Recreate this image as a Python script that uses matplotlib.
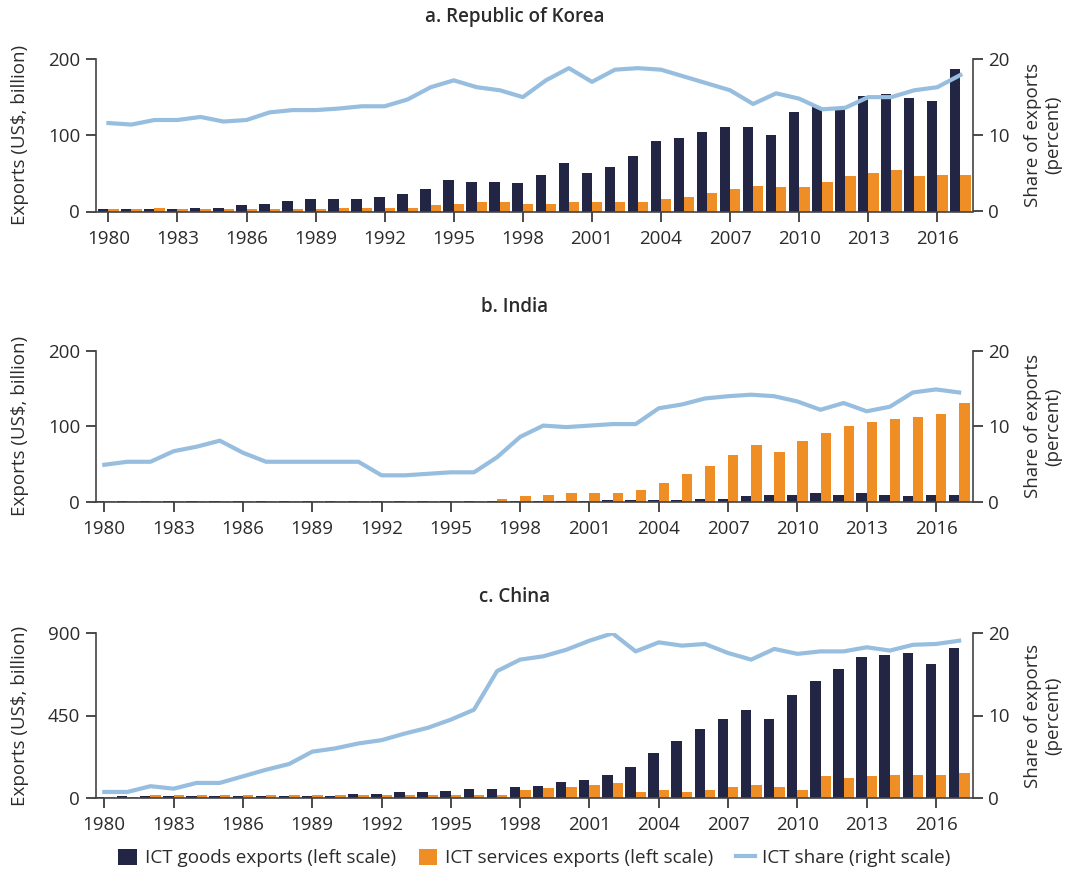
import matplotlib
matplotlib.use("Agg")
import matplotlib.pyplot as plt
from matplotlib.patches import Patch
from matplotlib.lines import Line2D
import numpy as np

plt.rcParams['font.family'] = ['Open Sans', 'DejaVu Sans']

years = list(range(1980, 2018))

# Republic of Korea
korea_goods = [3, 3, 3, 3, 5, 5, 8, 10, 14, 17, 17, 17, 19, 23, 30, 41, 39, 39, 37, 48,
               64, 50, 59, 73, 93, 97, 104, 111, 111, 100, 131, 137, 134, 152, 154, 149, 145, 187]
korea_services = [3, 3, 5, 3, 3, 3, 3, 3, 3, 3, 5, 5, 5, 5, 8, 10, 12, 12, 10, 10,
                  12, 12, 12, 12, 17, 19, 24, 30, 34, 32, 32, 39, 46, 50, 55, 46, 48, 48]
korea_share = [11.6, 11.4, 12.0, 12.0, 12.4, 11.8, 12.0, 13.0, 13.3, 13.3, 13.5, 13.8, 13.8, 14.7,
               16.3, 17.2, 16.3, 15.9, 15.0, 17.2, 18.8, 17.0, 18.6, 18.8, 18.6, 17.7, 16.8, 15.9,
               14.1, 15.5, 14.8, 13.4, 13.6, 15.0, 15.0, 15.9, 16.3, 17.9]

# India
india_goods = [1, 1, 1, 1, 1, 1, 1, 1, 1, 1, 1, 1, 1, 1, 1, 1, 1, 1, 1, 1,
               1, 1, 2, 2, 2, 2, 4, 4, 7, 9, 9, 11, 9, 11, 9, 7, 9, 9]
india_services = [1, 1, 1, 1, 1, 1, 1, 1, 1, 1, 1, 1, 1, 1, 1, 1, 1, 4, 7, 9,
                  11, 11, 11, 16, 25, 37, 48, 62, 75, 66, 80, 91, 101, 106, 110, 112, 117, 131]
india_share = [4.9, 5.3, 5.3, 6.7, 7.3, 8.1, 6.5, 5.3, 5.3, 5.3, 5.3, 5.3, 3.5, 3.5, 3.7, 3.9,
               3.9, 5.9, 8.6, 10.1, 9.9, 10.1, 10.3, 10.3, 12.4, 12.9, 13.7, 14.0, 14.2, 14.0,
               13.3, 12.2, 13.1, 12.0, 12.6, 14.5, 14.9, 14.5]

# China
china_goods = [4, 7, 7, 7, 7, 7, 7, 7, 7, 7, 7, 20, 20, 31, 31, 36, 47, 47, 58, 64,
               86, 97, 124, 168, 245, 310, 376, 431, 480, 431, 562, 639, 704, 770, 781, 792, 732, 819]
china_services = [2, 2, 13, 13, 13, 13, 13, 13, 13, 13, 13, 13, 13, 13, 13, 13, 13, 13, 42, 51,
                  60, 69, 78, 31, 40, 31, 40, 58, 69, 58, 40, 117, 106, 117, 126, 126, 126, 135]
china_share = [0.7, 0.7, 1.4, 1.1, 1.8, 1.8, 2.6, 3.4, 4.1, 5.6, 6.0, 6.6, 7.0, 7.8, 8.5, 9.5,
               10.7, 15.4, 16.8, 17.2, 18.0, 19.1, 20.0, 17.8, 18.9, 18.5, 18.7, 17.6, 16.8, 18.1,
               17.5, 17.8, 17.8, 18.3, 17.9, 18.6, 18.7, 19.1]

titles = ["a. Republic of Korea", "b. India", "c. China"]
left_ticks = [[0, 100, 200], [0, 100, 200], [0, 450, 900]]
x_ticks = list(range(1980, 2017, 3))

GOODS = "#222644"
SERVICES = "#EE8E25"
SHARE = "#97BEDF"
TEXT = "#2b2b2b"
SPINE = "#444444"

fig = plt.figure(figsize=(10.67, 8.73), dpi=100)
W, H = 1067, 873

# (goods, services, share, (axes top px, axes bottom px), x-limits, title y px)
panels = [
    (korea_goods, korea_services, korea_share, (59, 211.5), (1979.44, 2017.55), 17),
    (india_goods, india_services, india_share, (351, 501.7), (1979.62, 2017.6), 307),
    (china_goods, china_services, china_share, (633.3, 797.7), (1979.62, 2017.6), 597),
]

x = np.array(years)
bw = 0.45
for i, (goods, services, share, (top, bot), xl, ty) in enumerate(panels):
    ax = fig.add_axes([95.5 / W, 1 - bot / H, (973 - 95.5) / W, (bot - top) / H])
    ax.bar(x, goods, width=-bw, align='edge', color=GOODS, zorder=2)
    ax.bar(x, services, width=bw, align='edge', color=SERVICES, zorder=2)
    ymax = left_ticks[i][-1]
    ax.set_ylim(0, ymax)
    ax.set_xlim(*xl)
    ax.set_yticks(left_ticks[i])
    ax.set_xticks(x_ticks)
    ax.set_xticklabels([str(t) for t in x_ticks])
    ax.set_ylabel("Exports (US$, billion)", fontsize=13.5, color=TEXT, labelpad=14)
    fig.text(515 / W, 1 - ty / H, titles[i], fontsize=13.5, fontweight='semibold',
             color=TEXT, ha='center', va='center')

    ax2 = ax.twinx()
    ax2.plot(x, share, color=SHARE, lw=3.0, solid_joinstyle='round', zorder=3)
    ax2.set_ylim(0, 20)
    ax2.set_yticks([0, 10, 20])
    ax2.set_ylabel("Share of exports\n(percent)", fontsize=13.5, color=TEXT, labelpad=10)

    for a in (ax, ax2):
        a.spines['top'].set_visible(False)
        for s in ('left', 'right', 'bottom'):
            a.spines[s].set_color(SPINE)
            a.spines[s].set_linewidth(1.2)
        a.tick_params(axis='both', labelsize=13.5, colors=TEXT, length=7, width=1.2, direction='out', pad=4)
        a.tick_params(axis='x', length=7, pad=6)
    ax.spines['right'].set_visible(False)
    ax2.spines['left'].set_visible(False)
    ax2.spines['bottom'].set_visible(False)

handles = [
    Patch(facecolor=GOODS, label="ICT goods exports (left scale)"),
    Patch(facecolor=SERVICES, label="ICT services exports (left scale)"),
    Line2D([0], [0], color=SHARE, lw=3.0, label="ICT share (right scale)"),
]
fig.legend(handles=handles, loc='center', bbox_to_anchor=(0.501, 1 - 858 / H), ncol=3,
           frameon=False, fontsize=13.6, handlelength=1.0, handleheight=1.0,
           handletextpad=0.4, columnspacing=1.2, labelcolor=TEXT)

fig.savefig("out.png", dpi=100)
